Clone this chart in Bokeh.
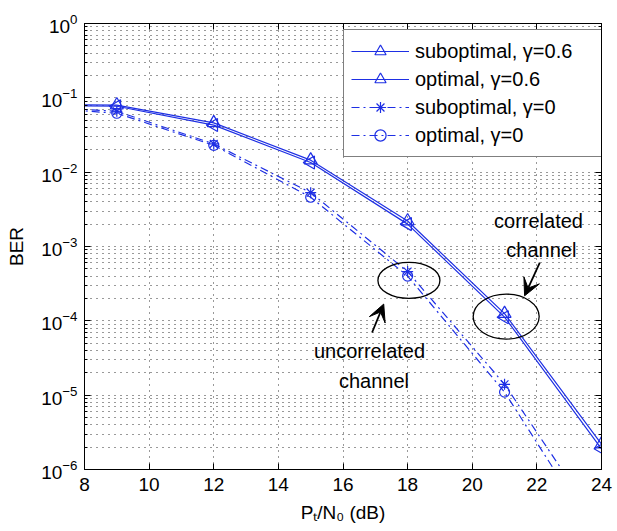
import numpy as np
from bokeh.plotting import figure
from bokeh.models import (Range1d, FixedTicker, LinearAxis, LogAxis, Legend, LegendItem,
                          Label, Arrow, VeeHead, CustomJSTickFormatter)
from bokeh.embed import file_html
from bokeh.resources import INLINE

# ---- data ----
snr_db = [6, 9, 12, 15, 18, 21, 24]
ber_sub_g06 = [0.082, 0.080, 0.046, 0.0145, 0.0022, 1.25e-4, 2.2e-6]
ber_opt_g06 = [0.080, 0.077, 0.043, 0.0135, 0.0020, 1.12e-4, 1.9e-6]
ber_sub_g0 = [0.078, 0.066, 0.024, 0.0053, 4.6e-4, 1.4e-5, 1.6e-7]
ber_opt_g0 = [0.077, 0.062, 0.023, 0.0046, 4.0e-4, 1.1e-5, 1.0e-7]

labels = ["suboptimal, \u03b3=0.6", "optimal, \u03b3=0.6",
          "suboptimal, \u03b3=0", "optimal, \u03b3=0"]
x_ticks = [8, 10, 12, 14, 16, 18, 20, 22, 24]
y_ticks = [1e-6, 1e-5, 1e-4, 1e-3, 1e-2, 1e-1, 1.0]
y_minor = [m * 10.0 ** e for e in range(-6, 0) for m in range(2, 10)]

FONT = "Liberation Sans"
BLUE = "#1e2fe4"

p = figure(frame_width=517, frame_height=446,
           x_range=Range1d(8, 24), y_range=Range1d(1e-6, 1),
           y_axis_type="log", output_backend="svg", toolbar_location=None,
           min_border_left=84, min_border_right=16, min_border_top=23,
           min_border_bottom=62)
p.background_fill_color = "white"
p.border_fill_color = "white"
p.outline_line_color = "black"
p.outline_line_width = 1

xt = FixedTicker(ticks=x_ticks)
yt = FixedTicker(ticks=y_ticks, minor_ticks=y_minor)
p.xaxis.ticker = xt
p.yaxis.ticker = yt

for ax in (p.xaxis[0], p.yaxis[0]):
    ax.major_label_text_font = FONT
    ax.major_label_text_font_size = "19px"
    ax.major_label_text_color = "black"
    ax.axis_label_text_font = FONT
    ax.axis_label_text_font_size = "19px"
    ax.axis_label_text_font_style = "normal"
    ax.axis_label_text_color = "black"
    ax.axis_line_color = "black"
    ax.major_tick_line_color = "black"
    ax.minor_tick_line_color = "black"
    ax.major_tick_in = 6
    ax.major_tick_out = 0
    ax.minor_tick_in = 3
    ax.minor_tick_out = 0

p.xaxis.axis_label = "P\u209c/N\u2080 (dB)"
p.yaxis.axis_label = "BER"
p.xaxis.major_label_standoff = 8
p.xaxis.axis_label_standoff = 8
p.yaxis.major_label_standoff = 7
p.yaxis.axis_label_standoff = 11

empty = CustomJSTickFormatter(code="return ''")
top = LinearAxis(ticker=xt, formatter=empty, major_tick_in=6, major_tick_out=0,
                 minor_tick_in=0, minor_tick_out=0, axis_line_color="black",
                 major_tick_line_color="black")
right = LogAxis(ticker=yt, formatter=empty, major_tick_in=6, major_tick_out=0,
                minor_tick_in=3, minor_tick_out=0, axis_line_color="black",
                major_tick_line_color="black", minor_tick_line_color="black")
p.add_layout(top, "above")
p.add_layout(right, "right")

for g in (p.xgrid[0], p.ygrid[0]):
    g.grid_line_color = "black"
    g.grid_line_alpha = 0.8
    g.grid_line_dash = "1 5"
    g.grid_line_width = 1
p.ygrid.minor_grid_line_color = "black"
p.ygrid.minor_grid_line_alpha = 0.8
p.ygrid.minor_grid_line_dash = "1 5"

DASHDOT = "8 4 2 4"
series = [
    (ber_sub_g06, "solid", "triangle", 0.0, 13),
    (ber_opt_g06, "solid", "triangle", np.pi / 2, 13),
    (ber_sub_g0, DASHDOT, "asterisk", 0.0, 11),
    (ber_opt_g0, DASHDOT, "circle", 0.0, 10),
]
items = []
for (ys, dash, mk, ang, sz), lab in zip(series, labels):
    ln = p.line(snr_db, ys, line_color=BLUE, line_width=1.2, line_dash=dash)
    sc = p.scatter(snr_db, ys, marker=mk, angle=ang, size=sz, line_color=BLUE,
                   fill_color=None, line_width=1.2)
    items.append(LegendItem(label=lab, renderers=[ln, sc]))

legend = Legend(items=items, location=(259, 312), padding=7, spacing=0,
                label_height=28, glyph_height=28, glyph_width=58,
                label_standoff=6, label_width=179,
                border_line_color="black", border_line_width=1,
                background_fill_color="white", background_fill_alpha=1,
                label_text_font=FONT, label_text_font_size="20px",
                label_text_color="black")
p.add_layout(legend)

# annotation ellipses around the points at 18 dB and 21 dB
p.ellipse(x=[18.04], y=[3.5e-4], width=62, height=36, width_units="screen",
          height_units="screen", fill_color=None, line_color="black", line_width=1.3)
p.ellipse(x=[21.05], y=[1.14e-4], width=66, height=45, width_units="screen",
          height_units="screen", fill_color=None, line_color="black", line_width=1.3)

for xs, ys, xe, ye in [(16.90, 6.97e-5, 17.26, 1.68e-4),
                       (22.09, 6.09e-4, 21.62, 2.17e-4)]:
    p.add_layout(Arrow(end=VeeHead(size=17, fill_color="black", line_color="black",
                                   line_width=1),
                       x_start=xs, y_start=ys, x_end=xe, y_end=ye,
                       line_color="black", line_width=1.8))

for tx, ty, txt in [(22.05, 2.22e-3, "correlated"), (22.14, 9.0e-4, "channel"),
                    (16.82, 3.95e-5, "uncorrelated"), (16.96, 1.53e-5, "channel")]:
    p.add_layout(Label(x=tx, y=ty, text=txt, text_align="center",
                       text_baseline="middle", text_font=FONT,
                       text_font_size="20px", text_color="black"))

open("out.html", "w").write(file_html(p, INLINE))
